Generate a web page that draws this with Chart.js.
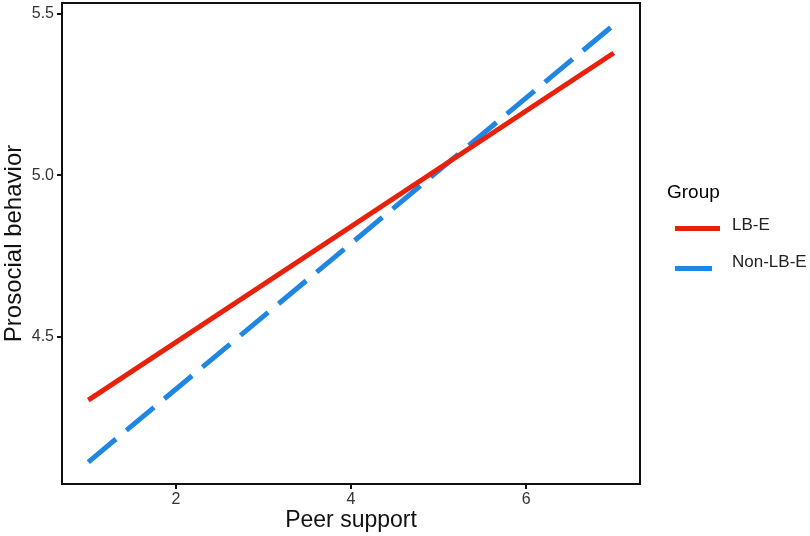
<!DOCTYPE html>
<html>
<head>
<meta charset="utf-8">
<script src="https://cdn.jsdelivr.net/npm/chart.js@4"></script>
<style>
  body { margin: 0; background: #fff; font-family: "Liberation Sans", Arial, sans-serif; }
  #wrap { position: relative; width: 810px; height: 536px; }
  #legend { position: absolute; left: 0; top: 0; color: #000; white-space: nowrap; }
  #legend div, #legend span { position: absolute; }
  #legend .title { left: 667px; top: 181px; font-size: 19px; }
  #legend .label { left: 732px; font-size: 17px; color: #222; }
  #legend .swatch { left: 675px; height: 5px; }
</style>
</head>
<body>
<div id="wrap">
  <canvas id="grafico" width="810" height="536"></canvas>
  <div id="legend">
    <div class="title">Group</div>
    <div class="swatch" style="top:226px;width:45px;background:#e8210d"></div>
    <span class="label" style="top:215px">LB-E</span>
    <div class="swatch" style="top:266px;width:37px;background:#1f86e3"></div>
    <span class="label" style="top:252px">Non-LB-E</span>
  </div>
</div>
<script>
const peerSupport = [1, 7];
const lbE = [4.304, 5.379];
const nonLbE = [4.112, 5.466];
const xTicks = [2, 4, 6];
const yTicks = [4.5, 5.0, 5.5];

const frame = {
    id: 'frame',
    afterDatasetsDraw(chart) {
        const a = chart.chartArea;
        const ctx = chart.ctx;
        ctx.save();
        ctx.strokeStyle = '#111';
        ctx.lineWidth = 2;
        ctx.strokeRect(a.left, a.top, a.right - a.left, a.bottom - a.top);
        ctx.restore();
    }
};

const graphic = new Chart("grafico", {
    type: "line",
    data: {
        datasets: [{
            label: "LB-E",
            data: peerSupport.map((x, i) => ({ x: x, y: lbE[i] })),
            borderColor: "#e8210d",
            borderWidth: 5,
            pointRadius: 0,
            borderCapStyle: 'butt'
        }, {
            label: "Non-LB-E",
            data: peerSupport.map((x, i) => ({ x: x, y: nonLbE[i] })),
            borderColor: "#1f86e3",
            borderWidth: 5,
            borderDash: [36, 13.5],
            pointRadius: 0,
            borderCapStyle: 'butt'
        }]
    },
    options: {
        responsive: false,
        animation: false,
        layout: { padding: { left: 0, top: 3, right: 170, bottom: 0 } },
        plugins: { legend: { display: false }, tooltip: { enabled: false } },
        scales: {
            x: {
                type: 'linear',
                min: 0.7,
                max: 7.3,
                afterBuildTicks: (s) => { s.ticks = xTicks.map(v => ({ value: v })); },
                afterFit: (s) => { s.height = 52; s.paddingLeft = 0; s.paddingRight = 0; },
                grid: { drawOnChartArea: false, drawTicks: true, tickLength: 5, color: '#111', lineWidth: 2 },
                border: { display: false },
                ticks: { color: '#333', font: { family: 'Liberation Sans', size: 16 }, padding: 1 },
                title: { display: true, text: 'Peer support', color: '#111', font: { family: 'Liberation Sans', size: 23 }, padding: { top: 0, bottom: 2 } }
            },
            y: {
                min: 4.044,
                max: 5.534,
                afterBuildTicks: (s) => { s.ticks = yTicks.map(v => ({ value: v })); },
                afterFit: (s) => { s.width = 62; s.paddingTop = 0; s.paddingBottom = 0; },
                grid: { drawOnChartArea: false, drawTicks: true, tickLength: 5, color: '#111', lineWidth: 2 },
                border: { display: false },
                ticks: { color: '#333', font: { family: 'Liberation Sans', size: 16 }, padding: 3, callback: (v) => v.toFixed(1) },
                title: { display: true, text: 'Prosocial behavior', color: '#111', font: { family: 'Liberation Sans', size: 24 }, padding: { top: 0, bottom: 0 } }
            }
        }
    },
    plugins: [frame]
});
</script>
</body>
</html>
